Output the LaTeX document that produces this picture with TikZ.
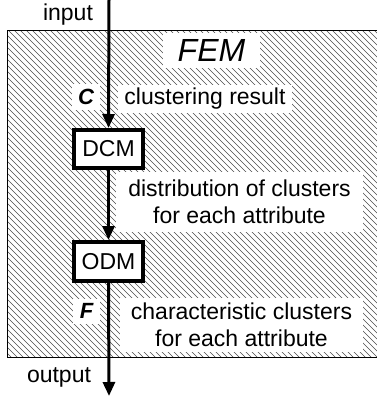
\documentclass[tikz,border=0pt]{standalone}
\usepackage{fontspec}
\setmainfont{Liberation Sans}
\usetikzlibrary{arrows.meta}
\tikzset{
  lbl/.style={font=\fontsize{23}{27}\selectfont, inner sep=0pt, align=center},
  wbox/.style={lbl, fill=white},
  module/.style={draw, line width=4pt, fill=white, inner sep=0pt, minimum width=69pt, minimum height=38pt, font=\fontsize{23}{27}\selectfont},
  flow/.style={line width=3pt, -{Triangle[length=14pt,width=12pt]}},
  hatch/.style={black!70, line width=0.45pt}
}
\begin{document}
\begin{tikzpicture}[x=1pt,y=-1pt]
\useasboundingbox (0,0) rectangle (377,399);
\clip (0,0) rectangle (377,399);
% hatched frame
\begin{scope}
  \clip (7,30) rectangle (390,357);
  \foreach \i in {-340,-334,...,390} {
    \draw[hatch] (\i,30) -- ++(340,340);
  }
\end{scope}
\draw[line width=1pt] (390,30) -- (7,30) -- (7,357) -- (390,357);
% white labels
\node[wbox, minimum width=97pt, minimum height=35pt, font=\fontsize{32}{33}\selectfont\itshape] (fem) at (211.5,50.5) {FEM};
\node[wbox, minimum width=28pt, minimum height=26pt, font=\fontsize{22}{23}\selectfont\bfseries\itshape] (c) at (86,97) {C};
\node[wbox, minimum width=174pt, minimum height=28pt] (cr) at (205,99) {clustering result};
\node[wbox, minimum width=247pt, minimum height=60pt] (dist) at (239.5,202) {distribution of clusters\\for each attribute};
\node[wbox, minimum width=27pt, minimum height=25pt, font=\fontsize{22}{23}\selectfont\bfseries\itshape] (f) at (86.5,311) {F};
\node[wbox, minimum width=243pt, minimum height=54pt] (char) at (241.5,325) {characteristic clusters\\for each attribute};
% modules
\node[module] (dcm) at (108.5,149) {DCM};
\node[module, minimum height=39pt] (odm) at (108.5,261.5) {ODM};
% outside labels
\node[lbl] (in) at (68,15) {input};
\node[lbl] (out) at (59,377) {output};
% flow
\coordinate (src) at (109,0);
\coordinate (snk) at (109,396);
\draw[flow] (src) -- (dcm.north);
\draw[flow] (dcm.south) -- (odm.north);
\draw[flow] (odm.south) -- (snk);
\end{tikzpicture}
\end{document}
